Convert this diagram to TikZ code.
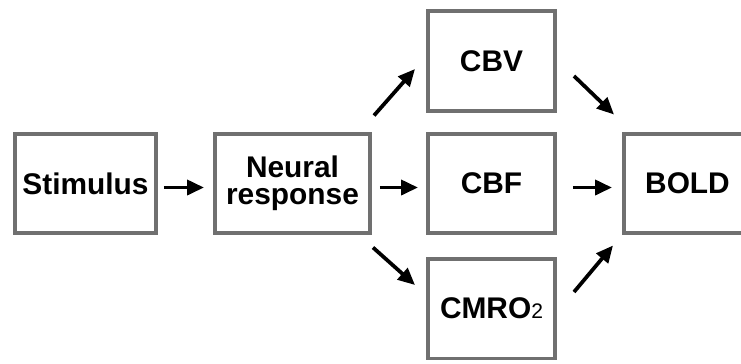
\documentclass[tikz,border=0pt]{standalone}
\usepackage{fontspec}
\setmainfont{Liberation Sans}
\usetikzlibrary{arrows.meta}
\definecolor{boxgray}{RGB}{112,112,112}

\begin{document}
\begin{tikzpicture}[x=0.02cm,y=-0.02cm,
  box/.style={draw=boxgray, line width=0.08cm, fill=white, minimum height=2cm,
    inner sep=0pt, align=center,
    font=\bfseries\fontsize{17}{15.5}\selectfont},
  arr/.style={line width=0.075cm, -{Triangle[length=0.34cm, width=0.3cm]}}]

\clip (0,0) rectangle (741,363);

% Boxes

\node [box, minimum width=2.82cm] (stim) at (85.5,183.5) {Stimulus};
\node [box, minimum width=3.1cm] (neural) at (292.5,183.5) {Neural\\response};

\node [box, minimum width=2.54cm] (cbv) at (491.5,61) {CBV};
\node [box, minimum width=2.54cm] (cbf) at (491.5,183.5) {CBF};
\node [box, minimum width=2.54cm] (cmro) at (491.5,308.5) {CMRO{\mdseries\fontsize{12}{12}\selectfont 2}};

\node [box, minimum width=2.54cm] (bold) at (687.5,183.5) {BOLD};

% Arrows

\draw [arr] ([shift={(6,4)}]stim.east) -- ([shift={(-9,4)}]neural.west);

\draw [arr] ([shift={(2,-16)}]neural.north east) -- ([shift={(-11,8)}]cbv.west);
\draw [arr] ([shift={(8,4)}]neural.east) -- ([shift={(-8,4)}]cbf.west);
\draw [arr] ([shift={(1,12)}]neural.south east) -- ([shift={(-11,-23.5)}]cmro.west);

\draw [arr] ([shift={(17,15)}]cbv.east) -- ([shift={(-8,-17)}]bold.north west);
\draw [arr] ([shift={(16,4)}]cbf.east) -- ([shift={(-10,4)}]bold.west);
\draw [arr] ([shift={(17,-16.5)}]cmro.east) -- ([shift={(-9,10)}]bold.south west);
\end{tikzpicture}
\end{document}
